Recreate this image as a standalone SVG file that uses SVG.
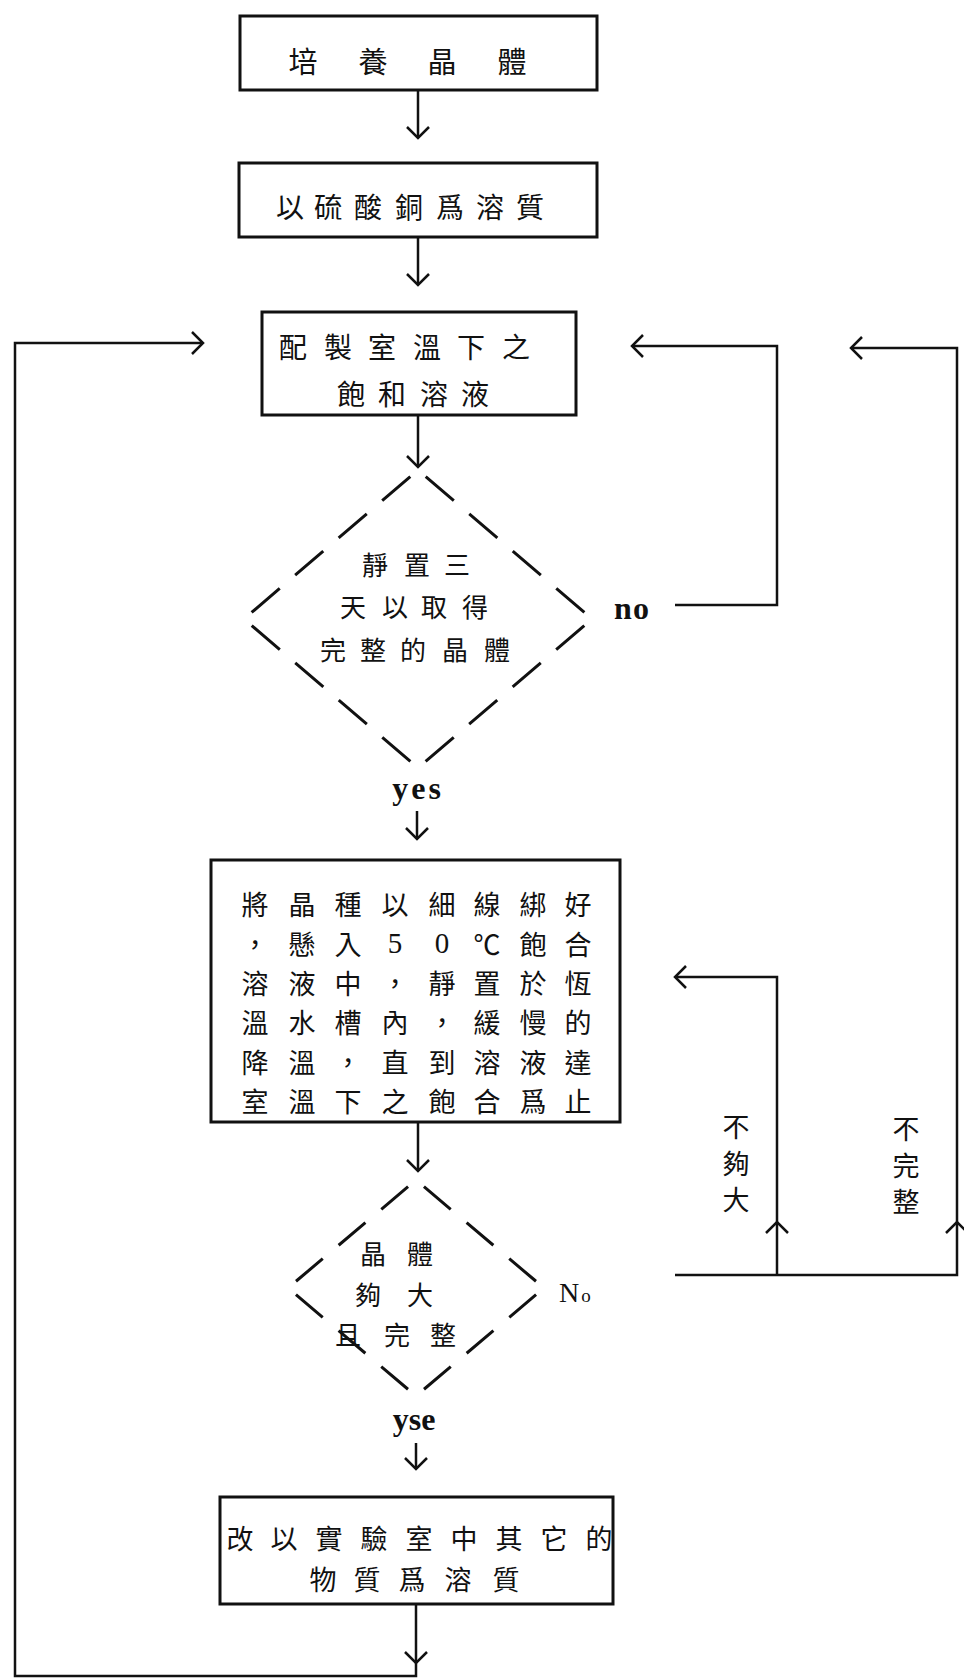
<svg xmlns="http://www.w3.org/2000/svg" width="964" height="1679" viewBox="0 0 964 1679">
<defs>
<style>
.box{fill:none;stroke:#111;stroke-width:3}
.dia{fill:none;stroke:#111;stroke-width:3;stroke-linecap:butt}
.d1{stroke-dasharray:37 20.3;stroke-dashoffset:47.15}
.d2{stroke-dasharray:35 20.8;stroke-dashoffset:45.4}
.cn{fill:none;stroke:#111;stroke-width:2.5;stroke-linejoin:miter}
.zh{font-family:"Noto Sans CJK TC","Noto Sans CJK SC",sans-serif;fill:#111;text-anchor:middle;dominant-baseline:central;font-size:27px}
.num{font-family:"Liberation Serif",serif;font-size:29px}
.en{font-family:"Liberation Serif",serif;font-weight:bold;fill:#111;text-anchor:middle;font-size:32px}
</style>
<marker id="ah" markerUnits="userSpaceOnUse" markerWidth="30" markerHeight="30" viewBox="-15 -15 30 30" refX="0" refY="0" orient="auto" overflow="visible">
<path d="M-11,-11 L0,0 L-11,11" fill="none" stroke="#111" stroke-width="2.5"/>
</marker>
</defs>
<rect x="0" y="0" width="964" height="1679" fill="#fff"/>

<g id="connectors">
<path class="cn" d="M418,90 V138" marker-end="url(#ah)"/>
<path class="cn" d="M418,237 V285" marker-end="url(#ah)"/>
<path class="cn" d="M418,415 V467" marker-end="url(#ah)"/>
<path class="cn" d="M417,811 V839" marker-end="url(#ah)"/>
<path class="cn" d="M418,1122 V1171" marker-end="url(#ah)"/>
<path class="cn" d="M416,1443 V1469" marker-end="url(#ah)"/>
<path class="cn" d="M416,1604 V1663" marker-end="url(#ah)"/>
<path class="cn" d="M416,1663 V1676 H15 V343 H203" marker-end="url(#ah)"/>
<path class="cn" d="M675,605 H777 V346 H632" marker-end="url(#ah)"/>
<path class="cn" d="M675,1275 H957 V1222" marker-end="url(#ah)"/>
<path class="cn" d="M957,1222 V348 H851" marker-end="url(#ah)"/>
<path class="cn" d="M777,1275 V1222" marker-end="url(#ah)"/>
<path class="cn" d="M777,1222 V977 H675" marker-end="url(#ah)"/>
</g>

<g id="n1">
<rect class="box" x="240" y="16" width="357" height="74"/>
<text class="zh" x="303 373 442 512" y="60" style="font-size:29px">培養晶體</text>
</g>

<g id="n2">
<rect class="box" x="239" y="163" width="358" height="74"/>
<text class="zh" x="290 328 368 409 450 490 530" y="206" style="font-size:28px">以硫酸銅爲溶質</text>
</g>

<g id="n3">
<rect class="box" x="262" y="312" width="314" height="103"/>
<text class="zh" x="293 338 382 427 471 516" y="346" style="font-size:28px">配製室溫下之</text>
<text class="zh" x="351 392 434 475" y="393" style="font-size:28px">飽和溶液</text>
</g>

<g id="d1">
<line class="dia d1" x1="418" y1="470" x2="244" y2="619"/>
<line class="dia d1" x1="418" y1="470" x2="592" y2="619"/>
<line class="dia d1" x1="244" y1="619" x2="418" y2="768"/>
<line class="dia d1" x1="592" y1="619" x2="418" y2="768"/>
<text class="zh" x="375 417 457" y="563" style="font-size:26px">靜置三</text>
<text class="zh" x="353 395 434 475" y="605" style="font-size:26px">天以取得</text>
<text class="zh" x="333 373 413 455 497" y="648" style="font-size:26px">完整的晶體</text>
<text class="en" x="632" y="619" letter-spacing="1">no</text>
<text class="en" x="418" y="799" letter-spacing="3">yes</text>
</g>

<g id="n4">
<rect class="box" x="211" y="860" width="409" height="262"/>
<text class="zh" x="255 302 348 395 442 487 533 578" y="903">將晶種以細線綁好</text>
<text class="zh" y="942.5"><tspan x="255">，</tspan><tspan x="302">懸</tspan><tspan x="348">入</tspan><tspan x="395" class="num">5</tspan><tspan x="442" class="num">0</tspan><tspan x="487">℃</tspan><tspan x="533">飽</tspan><tspan x="578">合</tspan></text>
<text class="zh" x="255 302 348 395 442 487 533 578" y="982">溶液中，靜置於恆</text>
<text class="zh" x="255 302 348 395 442 487 533 578" y="1021.5">溫水槽內，緩慢的</text>
<text class="zh" x="255 302 348 395 442 487 533 578" y="1061">降溫，直到溶液達</text>
<text class="zh" x="255 302 348 395 442 487 533 578" y="1100.5">室溫下之飽合爲止</text>
</g>

<g id="d2">
<line class="dia d2" x1="416" y1="1180" x2="288" y2="1288"/>
<line class="dia d2" x1="416" y1="1180" x2="544" y2="1288"/>
<line class="dia d2" x1="288" y1="1288" x2="416" y2="1396"/>
<line class="dia d2" x1="544" y1="1288" x2="416" y2="1396"/>
<text class="zh" x="373 420" y="1252" style="font-size:26px">晶體</text>
<text class="zh" x="368 420" y="1293" style="font-size:26px">夠大</text>
<text class="zh" x="348 397 443" y="1333" style="font-size:26px">且完整</text>
<text x="559" y="1302" style="font-family:'Liberation Serif',serif;font-size:28px;fill:#111">N<tspan style="font-size:19px" dx="2">o</tspan></text>
<text class="en" x="414" y="1430">yse</text>
</g>

<g id="n5">
<rect class="box" x="220" y="1497" width="393" height="107"/>
<text class="zh" x="240 284 329 374 419 464 509 554 599" y="1537" style="font-size:27px">改以實驗室中其它的</text>
<text class="zh" x="323 367 412 458 506" y="1578" style="font-size:27px">物質爲溶質</text>
</g>

<g id="labels">
<text class="zh" x="736 736 736" y="1125 1162 1198">不夠大</text>
<text class="zh" x="906 906 906" y="1127 1164 1200">不完整</text>
</g>
</svg>
